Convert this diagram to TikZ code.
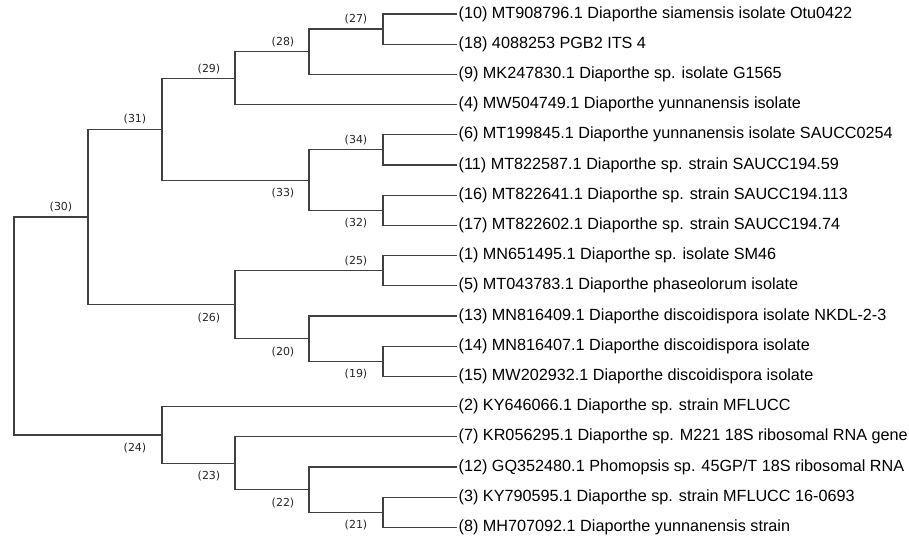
\documentclass[tikz,border=0pt]{standalone}
\usepackage{fontspec}
\setmainfont{Liberation Sans}
\newfontfamily\lblfont{DejaVu Sans}
\usetikzlibrary{calc}
\definecolor{brgray}{HTML}{404040}
\definecolor{lbltext}{HTML}{262626}
\tikzset{
  branch/.style={draw=brgray,line width=1.2pt},
  leaf/.style={anchor=west,inner sep=1.5pt,font=\fontsize{16.2}{19}\selectfont,text=black},
  lbl/.style={inner sep=1pt,font=\lblfont\fontsize{11}{13}\selectfont,text=lbltext},
  lblup/.style={lbl,anchor=south,yshift=3.5pt},
  lbldn/.style={lbl,anchor=north,yshift=-7pt}
}

\begin{document}
\begin{tikzpicture}[x=1pt,y=-1pt]
  \useasboundingbox (0,0) rectangle (909,540);

  % leaves
  \node[leaf] (l10) at (457,14.0) {(10) MT908796.1 Diaporthe siamensis isolate Otu0422};
  \node[leaf] (l18) at (457,44.2) {(18) 4088253 PGB2 ITS 4};
  \node[leaf] (l9) at (457,74.4) {(9) MK247830.1 Diaporthe sp. isolate G1565};
  \node[leaf] (l4) at (457,104.6) {(4) MW504749.1 Diaporthe yunnanensis isolate};
  \node[leaf] (l6) at (457,134.8) {(6) MT199845.1 Diaporthe yunnanensis isolate SAUCC0254};
  \node[leaf] (l11) at (457,165.0) {(11) MT822587.1 Diaporthe sp. strain SAUCC194.59};
  \node[leaf] (l16) at (457,195.2) {(16) MT822641.1 Diaporthe sp. strain SAUCC194.113};
  \node[leaf] (l17) at (457,225.4) {(17) MT822602.1 Diaporthe sp. strain SAUCC194.74};
  \node[leaf] (l1) at (457,255.6) {(1) MN651495.1 Diaporthe sp. isolate SM46};
  \node[leaf] (l5) at (457,285.8) {(5) MT043783.1 Diaporthe phaseolorum isolate};
  \node[leaf] (l13) at (457,316.0) {(13) MN816409.1 Diaporthe discoidispora isolate NKDL-2-3};
  \node[leaf] (l14) at (457,346.2) {(14) MN816407.1 Diaporthe discoidispora isolate};
  \node[leaf] (l15) at (457,376.4) {(15) MW202932.1 Diaporthe discoidispora isolate};
  \node[leaf] (l2) at (457,406.6) {(2) KY646066.1 Diaporthe sp. strain MFLUCC};
  \node[leaf] (l7) at (457,436.8) {(7) KR056295.1 Diaporthe sp. M221 18S ribosomal RNA gene};
  \node[leaf] (l12) at (457,467.0) {(12) GQ352480.1 Phomopsis sp. 45GP/T 18S ribosomal RNA};
  \node[leaf] (l3) at (457,497.2) {(3) KY790595.1 Diaporthe sp. strain MFLUCC 16-0693};
  \node[leaf] (l8) at (457,527.4) {(8) MH707092.1 Diaporthe yunnanensis strain};

  % internal nodes
  \coordinate (n27) at (383,29.1);
  \coordinate (n28) at (309,51.75);
  \coordinate (n29) at (235,78.2);
  \coordinate (n34) at (383,149.9);
  \coordinate (n32) at (383,210.3);
  \coordinate (n33) at (309,180.1);
  \coordinate (n31) at (162,129.15);
  \coordinate (n25) at (383,270.7);
  \coordinate (n19) at (383,361.3);
  \coordinate (n20) at (309,338.65);
  \coordinate (n26) at (235,304.7);
  \coordinate (n30) at (88,216.9);
  \coordinate (n21) at (383,512.3);
  \coordinate (n22) at (309,489.65);
  \coordinate (n23) at (235,463.2);
  \coordinate (n24) at (162,434.9);
  \coordinate (root) at (14,325.9);

  % branches
  \draw[branch] (root) |- (n30);
  \draw[branch] (root) |- (n24);
  \draw[branch] (n30) |- (n31);
  \draw[branch] (n30) |- (n26);
  \draw[branch] (n31) |- (n29);
  \draw[branch] (n31) |- (n33);
  \draw[branch] (n29) |- (n28);
  \draw[branch] (n29) |- (l4.west);
  \draw[branch] (n28) |- (n27);
  \draw[branch] (n28) |- (l9.west);
  \draw[branch] (n27) |- (l10.west);
  \draw[branch] (n27) |- (l18.west);
  \draw[branch] (n33) |- (n34);
  \draw[branch] (n33) |- (n32);
  \draw[branch] (n34) |- (l6.west);
  \draw[branch] (n34) |- (l11.west);
  \draw[branch] (n32) |- (l16.west);
  \draw[branch] (n32) |- (l17.west);
  \draw[branch] (n26) |- (n25);
  \draw[branch] (n26) |- (n20);
  \draw[branch] (n25) |- (l1.west);
  \draw[branch] (n25) |- (l5.west);
  \draw[branch] (n20) |- (l13.west);
  \draw[branch] (n20) |- (n19);
  \draw[branch] (n19) |- (l14.west);
  \draw[branch] (n19) |- (l15.west);
  \draw[branch] (n24) |- (l2.west);
  \draw[branch] (n24) |- (n23);
  \draw[branch] (n23) |- (l7.west);
  \draw[branch] (n23) |- (n22);
  \draw[branch] (n22) |- (l12.west);
  \draw[branch] (n22) |- (n21);
  \draw[branch] (n21) |- (l3.west);
  \draw[branch] (n21) |- (l8.west);

  % node labels
  \node[lblup] (t27) at ([xshift=-27pt]n27) {(27)};
  \node[lblup] (t28) at ([xshift=-26pt]n28) {(28)};
  \node[lblup] (t29) at ([xshift=-26pt]n29) {(29)};
  \node[lblup] (t31) at ([xshift=-27pt]n31) {(31)};
  \node[lblup] (t30) at ([xshift=-27pt]n30) {(30)};
  \node[lblup] (t34) at ([xshift=-27pt]n34) {(34)};
  \node[lbldn] (t33) at ([xshift=-26pt]n33) {(33)};
  \node[lbldn] (t32) at ([xshift=-27pt]n32) {(32)};
  \node[lblup] (t25) at ([xshift=-27pt]n25) {(25)};
  \node[lbldn] (t26) at ([xshift=-26pt]n26) {(26)};
  \node[lbldn] (t20) at ([xshift=-26pt]n20) {(20)};
  \node[lbldn] (t19) at ([xshift=-27pt]n19) {(19)};
  \node[lbldn] (t24) at ([xshift=-27pt]n24) {(24)};
  \node[lbldn] (t23) at ([xshift=-26pt]n23) {(23)};
  \node[lbldn] (t22) at ([xshift=-26pt]n22) {(22)};
  \node[lbldn] (t21) at ([xshift=-27pt]n21) {(21)};
\end{tikzpicture}
\end{document}
